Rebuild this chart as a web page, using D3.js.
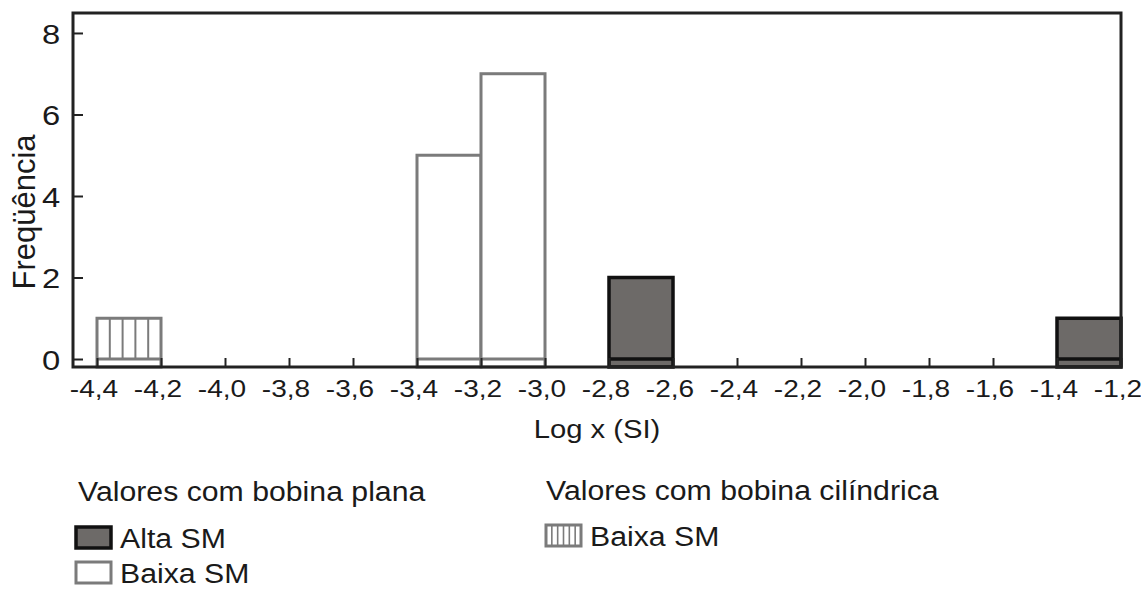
<!DOCTYPE html>
<html>
<head>
<meta charset="utf-8">
<script src="https://cdn.jsdelivr.net/npm/d3@7"></script>
<style>
body{margin:0;background:#fff;}
text{font-family:"Liberation Sans",Arial,sans-serif;fill:#1a1a1a;}
</style>
</head>
<body>
<svg id="chart" width="1141" height="590"></svg>
<script>
// data
var binStarts = [-4.4, -3.4, -3.2, -2.8, -1.4];
var binValues = [1, 5, 7, 2, 1];
var binGroups = ['cil-baixa', 'plana-baixa', 'plana-baixa', 'plana-alta', 'plana-alta'];
var binWidth = 0.2;
var xTicks = [-4.4,-4.2,-4.0,-3.8,-3.6,-3.4,-3.2,-3.0,-2.8,-2.6,-2.4,-2.2,-2.0,-1.8,-1.6,-1.4,-1.2];
var yTicks = [0, 2, 4, 6, 8];
var legendTitles = ['Valores com bobina plana', 'Valores com bobina cilíndrica'];
var legendLabels = ['Alta SM', 'Baixa SM', 'Baixa SM'];

var stretch = 1.17; // text in the picture is wider than plain Arial
var svg = d3.select('#chart');
var plotLeft = 73, plotRight = 1121, plotTop = 13, plotBottom = 367;

var x = d3.scaleLinear().domain([-4.475, -1.2]).range([plotLeft, plotRight]);
var y = d3.scaleLinear().domain([-0.196, 8.49]).range([plotBottom, plotTop]);

var styles = {
	'plana-alta': {fill: '#6d6a68', stroke: '#111', sw: 3.5},
	'plana-baixa': {fill: '#ffffff', stroke: '#7b7b7b', sw: 3},
	'cil-baixa': {fill: '#ffffff', stroke: '#7b7b7b', sw: 3}
};
function fmt(d){ return d3.format('.1f')(d).replace('.', ',').replace('−','-'); }

// bars
var bars = svg.append('g').attr('class','bars');
var idx = d3.range(binStarts.length);
bars.selectAll('rect')
	.data(idx).enter()
	.append('rect')
	.attr('x', function(i){ return x(binStarts[i]); })
	.attr('width', function(i){ return x(binStarts[i]+binWidth) - x(binStarts[i]); })
	.attr('y', function(i){ return y(binValues[i]); })
	.attr('height', function(i){ return y(y.domain()[0]) - y(binValues[i]); })
	.attr('fill', function(i){ return styles[binGroups[i]].fill; })
	.attr('stroke', function(i){ return styles[binGroups[i]].stroke; })
	.attr('stroke-width', function(i){ return styles[binGroups[i]].sw; });
bars.selectAll('line.zero')
	.data(idx).enter()
	.append('line')
	.attr('class','zero')
	.attr('x1', function(i){ return x(binStarts[i]); })
	.attr('x2', function(i){ return x(binStarts[i]+binWidth); })
	.attr('y1', y(0)).attr('y2', y(0))
	.attr('stroke', function(i){ return styles[binGroups[i]].stroke; })
	.attr('stroke-width', function(i){ return styles[binGroups[i]].sw; });

// vertical hatching for the cylindrical coil bar
idx.filter(function(i){ return binGroups[i] === 'cil-baixa'; }).forEach(function(i){
	var x0 = x(binStarts[i]), x1 = x(binStarts[i]+binWidth);
	d3.range(1,5).forEach(function(k){
		var xx = x0 + (x1-x0)*k/5;
		bars.append('line')
			.attr('x1', xx).attr('x2', xx)
			.attr('y1', y(binValues[i])).attr('y2', y(0))
			.attr('stroke', '#7b7b7b').attr('stroke-width', 2);
	});
});

// frame
svg.append('rect')
	.attr('x', plotLeft).attr('y', plotTop)
	.attr('width', plotRight-plotLeft).attr('height', plotBottom-plotTop)
	.attr('fill', 'none').attr('stroke', '#222').attr('stroke-width', 3);

// axes, ticks pointing inward
var xAxis = svg.append('g')
	.attr('transform', 'translate(0,' + plotBottom + ')')
	.call(d3.axisBottom(x).tickValues(xTicks).tickSize(-9).tickPadding(0).tickFormat(fmt));
xAxis.select('.domain').remove();
xAxis.selectAll('line').attr('stroke', '#222').attr('stroke-width', 2);
xAxis.selectAll('text')
	.attr('y', 30).attr('dy', null)
	.attr('x', -3)
	.attr('fill', '#1a1a1a')
	.style('font-size', '24px')
	.attr('transform', 'scale(' + stretch + ',1)');

var yAxis = svg.append('g')
	.attr('transform', 'translate(' + plotLeft + ',0)')
	.call(d3.axisLeft(y).tickValues(yTicks).tickSize(-10).tickPadding(0).tickFormat(d3.format('d')));
yAxis.select('.domain').remove();
yAxis.selectAll('line').attr('stroke', '#222').attr('stroke-width', 2);
yAxis.selectAll('text')
	.attr('x', -11).attr('dy', '0.36em')
	.attr('fill', '#1a1a1a')
	.style('font-size', '28px')
	.attr('transform', 'scale(' + stretch + ',1)');

// axis titles
svg.append('text')
	.attr('transform', 'translate(' + ((plotLeft+plotRight)/2) + ',438) scale(' + stretch + ',1)')
	.attr('text-anchor', 'middle')
	.style('font-size', '25px')
	.text('Log x (SI)');
svg.append('text')
	.attr('transform', 'translate(35,212) rotate(-90)')
	.attr('text-anchor', 'middle')
	.style('font-size', '31px')
	.text('Freqüência');

// legend
var legend = svg.append('g').attr('class','legend');
function legendText(px, py, size, str){
	legend.append('text')
		.attr('transform', 'translate(' + px + ',' + py + ') scale(1.12,1)')
		.style('font-size', size + 'px')
		.text(str);
}
legendText(78, 501, 27, legendTitles[0]);
legendText(546, 500, 27, legendTitles[1]);

var swatches = [
	{x: 76, y: 527, key: 'plana-alta'},
	{x: 76, y: 562, key: 'plana-baixa'},
	{x: 546, y: 525, key: 'cil-baixa'}
];
swatches.forEach(function(s, i){
	var st = styles[s.key];
	legend.append('rect')
		.attr('x', s.x).attr('y', s.y)
		.attr('width', 35).attr('height', 21)
		.attr('fill', st.fill).attr('stroke', st.stroke).attr('stroke-width', st.sw);
	if (s.key === 'cil-baixa') {
		d3.range(1,6).forEach(function(k){
			legend.append('line')
				.attr('x1', s.x + 35*k/6).attr('x2', s.x + 35*k/6)
				.attr('y1', s.y).attr('y2', s.y+21)
				.attr('stroke', st.stroke).attr('stroke-width', 1.6);
		});
	}
	legendText(s.x + 44, s.y + 21, 27, legendLabels[i]);
});
</script>
</body>
</html>
